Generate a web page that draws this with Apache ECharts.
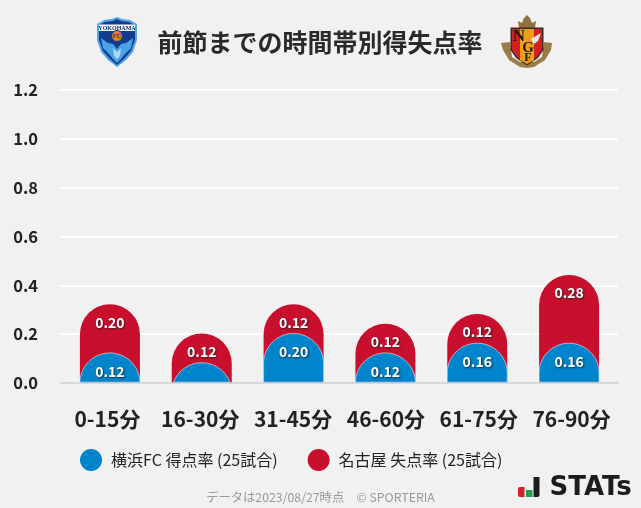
<!DOCTYPE html>
<html>
<head>
<meta charset="utf-8">
<style>html,body{margin:0;padding:0;background:#f1f1f1}#c{width:641px;height:508px}</style>
<script src="https://cdn.jsdelivr.net/npm/echarts@6/dist/echarts.min.js"></script>
</head>
<body>
<div id="c"></div>
<script>
const categories = ['0-15分','16-30分','31-45分','46-60分','61-75分','76-90分'];
const scoredRate = [0.12,0.08,0.20,0.12,0.16,0.16];
const concededRate = [0.20,0.12,0.12,0.12,0.12,0.28];
const scoredName = '横浜FC 得点率 (25試合)';
const concededName = '名古屋 失点率 (25試合)';
const titleText = '前節までの時間帯別得失点率';
const footerText = 'データは2023/08/27時点　© SPORTERIA';
const FONT = '"Noto Sans CJK JP","Noto Sans",sans-serif';
const stackedTotals = scoredRate.map((v,i)=>+(v+concededRate[i]).toFixed(2));
const BAR_W = 60, BAR_R = 30;
const SHADOW = {textShadowColor:'rgba(30,30,30,.85)', textShadowBlur:2, textShadowOffsetX:1, textShadowOffsetY:1};

// rounded-top column whose cap is a true circle, clipped by the baseline when the column is short
function renderScored(params, api){
  const v = api.value(1);
  const top = api.coord([api.value(0), v]);
  const base = api.coord([api.value(0), 0]);
  const cx = top[0], ty = top[1], by = base[1], h = by - ty, r = BAR_R;
  const d = h >= r ? 0 : Math.asin((r-h)/r);
  const startA = Math.PI + d, endA = Math.PI*2 - d;
  const pts = [];
  const n = 48;
  for(let k=0;k<=n;k++){
    const a = startA + (endA-startA)*k/n;
    pts.push([cx + r*Math.cos(a), ty + r + r*Math.sin(a)]);
  }
  if(h >= r){ pts.unshift([cx-r,by]); pts.push([cx+r,by]); }
  const children = [{type:'polygon', shape:{points:pts},
    style:{fill:'#0085cc', stroke:'rgba(255,255,255,.55)', lineWidth:1}}];
  if(v >= 0.1) children.push({type:'text', z2:5, style:Object.assign({
    text:v.toFixed(2), x:cx, y:ty+18.5, align:'center', verticalAlign:'middle',
    font:'bold 14px '+FONT, fill:'#fff'}, SHADOW)});
  return {type:'group', children};
}

const poly = (points, fill, z, extra) => ({type:'polygon', shape:{points}, style:Object.assign({fill},extra||{}), z:z||10});
const txt = (text,x,y,font,fill,align,z) => ({type:'text', z:z||12, style:{text,x,y,font,fill,textAlign:align||'center',textVerticalAlign:'middle'}});

const yokohamaLogo = [
  poly([[97,24],[104,20],[112,19],[117,17],[122,19],[130,20],[137,24],[137,40],[133,52],[126,60],[117,67],[108,60],[101,52],[97,40]],'#4aa8ea'),
  poly([[99,25],[105,22],[113,21],[117,19],[121,21],[129,22],[135,25],[135,40],[131,51],[124,59],[117,65],[110,59],[103,51],[99,40]],'#123c8c'),
  poly([[99,24.5],[135,24.5],[135,31],[99,31]],'#f6f9fc',11),
  txt('YOKOHAMA',117,28,'bold 6px "Liberation Serif"','#10306f','center',12),
  {type:'circle', z:12, shape:{cx:117,cy:36,r:5.5}, style:{fill:'#ee7d1e',stroke:'#123c8c',lineWidth:1}},
  txt('FC',117,36,'bold 6px "Liberation Sans"','#123c8c','center',13),
  poly([[101,38],[108,43],[113,44],[117,49],[121,44],[126,43],[133,38],[131,48],[125,54],[121,59],[117,63],[113,59],[109,54],[103,48]],'#4aa3e6',11),
  poly([[113,48],[117,52],[121,48],[120,56],[117,59],[114,56]],'#a8d8f5',12)
];
const nagoyaLogo = [
  poly([[519,28],[518,21],[522,23],[524,18],[527,15],[530,18],[532,23],[536,21],[535,28]],'#8e7340'),
  poly([[501,43],[510,42],[512,57],[520,62],[534,62],[542,57],[544,42],[552,43],[551,50],[545,60],[534,67],[527,68],[520,67],[509,60],[503,50]],'#9a7c4a'),
  poly([[510.5,27.5],[543.5,27.5],[543.5,50],[538,58],[527,65.5],[516,58],[510.5,50]],'#3a2a20',11),
  poly([[512,29],[542,29],[542,50],[537,57],[527,64],[517,57],[512,50]],'#d0201f',11),
  poly([[520,29],[534,29],[534,60],[527,64],[520,60]],'#f0a017',12),
  txt('N',519,37,'bold 17px "Liberation Serif"','#1d1a18','center',13),
  txt('G',528,48,'bold 15px "Liberation Serif"','#1d1a18','center',13),
  txt('F',528,58,'bold 12px "Liberation Serif"','#1d1a18','center',13),
  poly([[531,39],[541,33],[538,41],[534,44]],'#ececec',13)
];
const statsLogo = [
  {type:'rect', z:10, shape:{x:518,y:487,width:6.5,height:10,r:[2,0,0,2]}, style:{fill:'#d5202a'}},
  {type:'rect', z:10, shape:{x:526,y:490,width:6.5,height:7}, style:{fill:'#1fa04a'}},
  {type:'rect', z:10, shape:{x:533.5,y:477,width:6,height:20,r:[0,0,2,0]}, style:{fill:'#1c1c1c'}},
  txt('STATs',549.5,488.5,'bold 26px "DejaVu Sans"','#1c1c1c','left',12)
];

const option = {
  backgroundColor:'#f1f1f1',
  animation:false,
  legend:{
    left:80, top:449, padding:0, itemWidth:22, itemHeight:22, itemGap:30, icon:'circle',
    itemStyle:{borderWidth:0},
    data:[scoredName, concededName],
    textStyle:{fontFamily:FONT, fontSize:16, color:'#222', padding:[0,0,0,4]}
  },
  grid:[
    {left:61, right:23, top:90, height:293},
    {left:64, right:26, top:89.7, height:292.5}
  ],
  xAxis:[
    {type:'category', gridIndex:0, data:categories, axisTick:{show:false},
     axisLine:{lineStyle:{color:'#d8d8d8',width:2}},
     axisLabel:{color:'#222', fontFamily:FONT, fontWeight:'bold', fontSize:21, margin:26, interval:0}},
    {type:'category', gridIndex:1, data:categories, axisTick:{show:false}, axisLine:{show:false}, axisLabel:{show:false}}
  ],
  yAxis:[
    {type:'value', gridIndex:0, min:0, max:1.2, interval:0.2, axisLine:{show:false}, axisTick:{show:false},
     splitLine:{lineStyle:{color:'#fff',width:2}},
     axisLabel:{color:'#222', fontFamily:FONT, fontWeight:'bold', fontSize:16.5, margin:23, padding:[0,0,3,0], formatter:v=>v.toFixed(1)}},
    {type:'value', gridIndex:1, min:0, max:1.2, interval:0.2, show:false}
  ],
  series:[
    {name:scoredName, type:'custom', xAxisIndex:1, yAxisIndex:1, z:3,
     itemStyle:{color:'#0085cc'}, clip:false,
     encode:{x:0,y:1},
     data:scoredRate.map((v,i)=>[i,v]),
     renderItem:renderScored},
    {name:concededName, type:'bar', xAxisIndex:1, yAxisIndex:1, z:2, barWidth:BAR_W,
     itemStyle:{color:'#c8102e', borderRadius:[BAR_R,BAR_R,0,0]},
     data:stackedTotals,
     label:Object.assign({show:true, position:'insideTop', distance:11, color:'#fff', fontFamily:FONT, fontWeight:'bold', fontSize:14,
       formatter:p=>concededRate[p.dataIndex].toFixed(2)}, SHADOW)}
  ],
  graphic:[
    txt(titleText,320,42,'bold 25px '+FONT,'#2a2a2a','center'),
    txt(footerText,320.5,497,'12.3px '+FONT,'#999','center'),
    ...yokohamaLogo, ...nagoyaLogo, ...statsLogo
  ]
};
echarts.init(document.getElementById('c'),null,{renderer:'canvas'}).setOption(option);
</script>
</body>
</html>
